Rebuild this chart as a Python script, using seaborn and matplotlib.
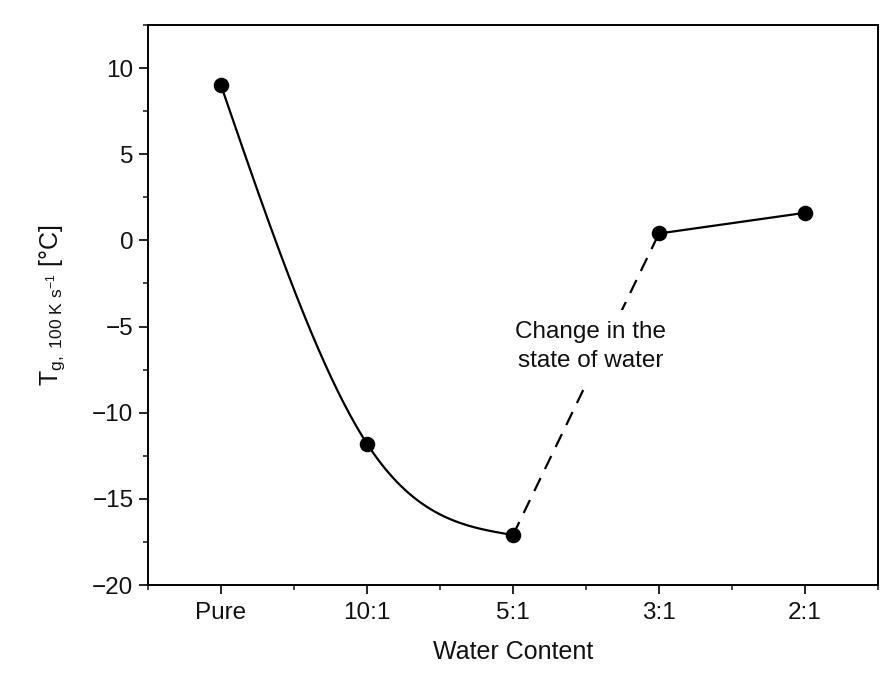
import numpy as np
import pandas as pd
import matplotlib
matplotlib.use("Agg")
import matplotlib.pyplot as plt
from matplotlib.ticker import MultipleLocator
import seaborn as sns

# Glass transition temperature versus water content
categories = ["Pure", "10:1", "5:1", "3:1", "2:1"]
tg_values = [9.0, -11.8, -17.1, 0.4, 1.6]
y_ticks = [-20, -15, -10, -5, 0, 5, 10]

sns.set_theme(style="white")
plt.rcParams["font.family"] = ["Liberation Sans", "DejaVu Sans"]
plt.rcParams["mathtext.fontset"] = "custom"
plt.rcParams["mathtext.rm"] = "Liberation Sans"
plt.rcParams["mathtext.it"] = "Liberation Sans:italic"
plt.rcParams["axes.unicode_minus"] = True

pos = np.arange(len(categories), dtype=float)
df = pd.DataFrame({"pos": pos, "tg": tg_values, "cat": categories})


def smooth_curve(x, y, n=200):
    """Cubic Hermite curve: central-difference tangents inside, natural ends."""
    x = np.asarray(x, float)
    y = np.asarray(y, float)
    h = np.diff(x)
    d = np.diff(y) / h
    m = np.empty_like(y)
    m[1:-1] = (y[2:] - y[:-2]) / (x[2:] - x[:-2])
    m[0] = (3 * d[0] - m[1]) / 2
    m[-1] = (3 * d[-1] - m[-2]) / 2
    xs, ys = [], []
    for i in range(len(x) - 1):
        t = np.linspace(0, 1, n)
        h00 = 2 * t**3 - 3 * t**2 + 1
        h10 = t**3 - 2 * t**2 + t
        h01 = -2 * t**3 + 3 * t**2
        h11 = t**3 - t**2
        xs.append(x[i] + t * h[i])
        ys.append(h00 * y[i] + h10 * h[i] * m[i] + h01 * y[i + 1] + h11 * h[i] * m[i + 1])
    return np.concatenate(xs), np.concatenate(ys)


fig = plt.figure(figsize=(8.86, 6.84), dpi=100)
ax = fig.add_axes([148 / 886, 1 - 585 / 684, (878 - 148) / 886, (585 - 25) / 684])

# Smooth solid curve through the first three samples
cx, cy = smooth_curve(df["pos"][:3], df["tg"][:3])
curve = pd.DataFrame({"pos": cx, "tg": cy})
sns.lineplot(data=curve, x="pos", y="tg", ax=ax, color="black", lw=1.6, sort=False)

# Dashed jump where the state of water changes
sns.lineplot(data=df.iloc[2:4], x="pos", y="tg", ax=ax, color="black", lw=1.6,
             linestyle=(0, (6.5, 4.5)))
# Straight solid segment for the last two
sns.lineplot(data=df.iloc[3:5], x="pos", y="tg", ax=ax, color="black", lw=1.6)

sns.scatterplot(data=df, x="pos", y="tg", ax=ax, color="black", s=125,
                edgecolor="black", linewidth=0, zorder=5)

ax.text(2.53, -6.15, "Change in the\nstate of water", ha="center", va="center",
        multialignment="center", fontsize=17.5, color="#111111", linespacing=1.45,
        zorder=4, bbox=dict(boxstyle="square,pad=0.45", facecolor="white", edgecolor="none"))

ax.set_xlim(-0.5, len(categories) - 0.5)
ax.set_ylim(-20, 12.5)
ax.set_xticks(pos)
ax.set_xticklabels(categories)
ax.xaxis.set_minor_locator(MultipleLocator(0.5))
ax.set_yticks(y_ticks)
ax.yaxis.set_minor_locator(MultipleLocator(2.5))

ax.tick_params(axis="both", which="major", direction="out", length=6.5, width=1.2,
               labelsize=17.5, colors="black", labelcolor="#111111",
               bottom=True, left=True, top=False, right=False)
ax.tick_params(axis="both", which="minor", direction="out", length=3.5, width=1.2,
               bottom=True, left=True, top=False, right=False)
ax.tick_params(axis="x", which="major", pad=6)
ax.tick_params(axis="y", which="major", pad=4)

for sp in ax.spines.values():
    sp.set_visible(True)
    sp.set_color("black")
    sp.set_linewidth(1.4)

ax.set_xlabel("Water Content", fontsize=18, color="#111111", labelpad=11)
ax.set_ylabel(r"T$_{\mathrm{g,\ 100\ K\ s^{-1}}}$ [°C]", fontsize=18, color="#111111", labelpad=18)

fig.savefig("out.png", dpi=100, facecolor="white")
